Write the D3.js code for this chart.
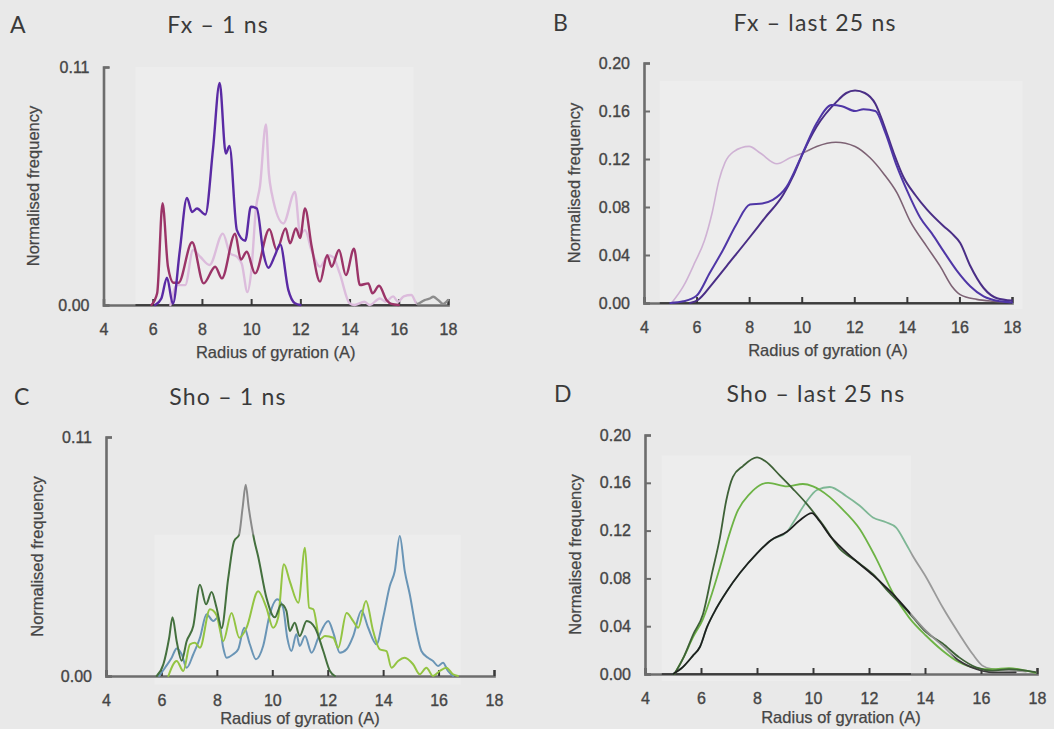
<!DOCTYPE html>
<html>
<head>
<meta charset="utf-8">
<script src="https://cdn.jsdelivr.net/npm/d3@7"></script>
<style>
  html, body { margin: 0; padding: 0; background: #e9e9e9; }
  svg { display: block; }
</style>
</head>
<body>
<svg id="chart" width="1054" height="729"></svg>
<script>
// ---- Shared axis values -------------------------------------------------
const radiusTicks = [4, 6, 8, 10, 12, 14, 16, 18];
const shortRunTicks = [0, 0.11];
const longRunTicks = [0, 0.04, 0.08, 0.12, 0.16, 0.20];

// ---- Fx, first nanosecond: [radius of gyration (A), normalised frequency]
const fxShortViolet = [[6.1,0],[6.35,0.003],[6.58,0.0126],[6.82,0.0005],[7.1,0.025],[7.39,0.0495],[7.6,0.043],[7.8,0.0446],[8.14,0.0418],[8.45,0.072],[8.72,0.1026],[8.97,0.070],[9.12,0.0735],[9.42,0.0346],[9.76,0.0297],[9.99,0.0454],[10.23,0.0446],[10.5,0.0238],[10.7,0.0172],[10.97,0.023],[11.18,0.028],[11.51,0.007],[11.78,0.0008],[12.0,0]];
const fxShortMagenta = [[5.95,0],[6.18,0.0054],[6.4,0.047],[6.62,0.0177],[6.85,0.0103],[7.05,0.0103],[7.6,0.029],[8.07,0.01],[8.54,0.0177],[8.81,0.0123],[9.35,0.033],[9.58,0.021],[9.82,0.0246],[10.16,0.0146],[10.74,0.035],[11.04,0.0254],[11.4,0.0354],[11.58,0.0285],[11.82,0.0354],[11.99,0.031],[12.19,0.0446],[12.46,0.027],[12.8,0.0108],[13.09,0.023],[13.27,0.0177],[13.57,0.0254],[13.85,0.0138],[14.18,0.026],[14.42,0.0092],[14.76,0.01],[14.93,0.0054],[15.2,0.0089],[15.5,0.0023],[15.7,0.0005],[16.0,0]];
const fxShortPink = [[6.72,0],[6.99,0.0092],[7.32,0.0092],[7.64,0.0254],[7.93,0.0223],[8.31,0.0185],[8.85,0.033],[9.15,0.0238],[9.42,0.0223],[9.62,0.019],[9.85,0.006],[10.0,0.015],[10.2,0.045],[10.36,0.055],[10.6,0.0834],[10.72,0.0608],[10.84,0.0515],[11.31,0.0377],[11.78,0.0523],[11.99,0.033],[12.19,0.0346],[12.46,0.025],[12.8,0.0177],[13.13,0.023],[13.34,0.022],[13.6,0.0146],[14.0,0.0008],[14.2,0],[14.6,0.0015],[14.82,0],[15.23,0.003],[15.47,0.0015],[15.77,0.004],[15.97,0.0015],[16.2,0.004],[16.51,0.0046],[16.75,0.0005],[17.05,0.0023],[17.26,0.003],[17.4,0.0038],[17.6,0.0023],[17.8,0.0005],[18.0,0.0023]];

// ---- Fx, last 25 ns
const fxLongLavender = [[5.05,0],[5.5,0.014],[5.94,0.034],[6.3,0.052],[6.59,0.075],[6.85,0.102],[7.08,0.117],[7.4,0.126],[8.0,0.1305],[8.42,0.125],[9.06,0.116],[9.56,0.121],[10.05,0.125],[10.57,0.1305],[11.3,0.134],[12.03,0.1305],[12.6,0.121],[13.11,0.108],[13.62,0.092],[14.13,0.068],[14.76,0.047],[15.27,0.0305],[15.71,0.014],[16.03,0.007],[16.66,0.003],[17.3,0.0014],[17.94,0.0005]];
const fxLongShoulder = [[5.0,0],[5.5,0.0014],[6.0,0.006],[6.5,0.025],[7.0,0.044],[7.5,0.065],[8.03,0.082],[8.5,0.083],[8.9,0.086],[9.43,0.097],[10.0,0.123],[10.57,0.15],[11.14,0.165],[11.53,0.164],[12.03,0.160],[12.35,0.1615],[12.8,0.16],[13.18,0.142],[13.62,0.114],[14.0,0.094],[14.51,0.071],[14.95,0.058],[15.4,0.043],[15.9,0.027],[16.41,0.014],[16.92,0.0055],[17.55,0.0014],[18.0,0.0005]];
const fxLongSteady = [[5.75,0],[6.05,0.0025],[6.6,0.016],[7.15,0.031],[8.03,0.055],[8.6,0.071],[9.29,0.09],[9.7,0.107],[10.05,0.125],[10.57,0.147],[11.34,0.168],[11.7,0.175],[12.03,0.177],[12.4,0.175],[12.8,0.166],[13.1,0.15],[13.5,0.125],[13.87,0.105],[14.32,0.09],[14.76,0.078],[15.4,0.064],[15.71,0.058],[16.03,0.05],[16.41,0.031],[16.92,0.0125],[17.43,0.004],[18.0,0.002]];

// ---- Sho, first nanosecond
const shoShortDark = [[5.83,0],[6.07,0.0054],[6.28,0.0176],[6.4,0.027],[6.55,0.016],[6.73,0.007],[6.91,0.016],[7.15,0.023],[7.39,0.042],[7.61,0.033],[7.81,0.0387],[7.99,0.0314],[8.17,0.022],[8.41,0.045],[8.62,0.062],[8.8,0.065],[8.93,0.0775],[9.04,0.088],[9.15,0.0775],[9.35,0.0625],[9.49,0.055],[9.79,0.036],[10.09,0.027],[10.33,0.033],[10.51,0.03],[10.63,0.0207],[10.81,0.0245],[10.99,0.0184],[11.24,0.0253],[11.54,0.0222],[11.84,0.0115],[12.08,0.0023],[12.26,0]];
const shoShortLime = [[6.25,0],[6.55,0.0069],[6.79,0.0023],[7.03,0.0146],[7.21,0.0153],[7.39,0.013],[7.75,0.0307],[7.99,0.028],[8.23,0.016],[8.53,0.029],[8.81,0.0176],[9.07,0.0222],[9.49,0.039],[9.79,0.0314],[10.03,0.0222],[10.21,0.0268],[10.42,0.0514],[10.63,0.0437],[10.94,0.0337],[11.18,0.059],[11.33,0.0314],[11.48,0.0307],[11.72,0.0169],[11.9,0.0184],[12.2,0.0176],[12.38,0.013],[12.68,0.029],[12.92,0.0253],[13.1,0.0222],[13.38,0.0345],[13.64,0.0207],[13.88,0.0123],[14.12,0.0115],[14.3,0.0038],[14.54,0.0069],[14.78,0.0084],[15.08,0.0054],[15.32,0.0008],[15.56,0.0038],[15.8,0],[16.04,0.0023],[16.28,0.0038],[16.52,0.0008],[16.7,0]];
const shoShortSteel = [[5.92,0],[6.13,0.0038],[6.37,0.0084],[6.55,0.0127],[6.73,0.01],[6.91,0.0038],[7.15,0.01],[7.39,0.0176],[7.63,0.0284],[7.87,0.0253],[8.05,0.027],[8.23,0.013],[8.35,0.0084],[8.59,0.01],[8.77,0.0123],[8.99,0.0222],[9.19,0.0146],[9.41,0.0077],[9.67,0.0138],[9.91,0.0284],[10.18,0.0353],[10.39,0.0314],[10.54,0.0176],[10.69,0.0115],[10.87,0.0192],[10.99,0.0138],[11.18,0.0184],[11.42,0.0107],[11.66,0.0176],[12.02,0.0253],[12.2,0.02],[12.44,0.0107],[12.68,0.0123],[12.92,0.0184],[13.22,0.0302],[13.46,0.0222],[13.76,0.0146],[14.0,0.0268],[14.24,0.0414],[14.42,0.0483],[14.6,0.0644],[14.78,0.0483],[14.96,0.0376],[15.2,0.0207],[15.38,0.0115],[15.62,0.0084],[15.8,0.0069],[15.98,0.0046],[16.16,0.0061],[16.34,0.0023],[16.52,0]];

// ---- Sho, last 25 ns
const shoLongDark = [[5.05,0],[5.4,0.015],[5.72,0.033],[6.07,0.05],[6.4,0.085],[6.68,0.1146],[6.9,0.145],[7.14,0.165],[7.5,0.174],[8.0,0.1812],[8.3,0.178],[8.82,0.166],[9.28,0.155],[9.79,0.142],[10.35,0.125],[10.95,0.105],[11.54,0.0945],[12.14,0.0835],[12.73,0.068],[13.44,0.051],[14.04,0.035],[14.63,0.0255],[15.22,0.0139],[15.82,0.0056],[16.41,0.0028],[17.0,0.004],[17.36,0.0035],[17.95,0.0015]];
const shoLongLight = [[5.05,0],[5.4,0.015],[5.72,0.031],[6.07,0.046],[6.4,0.068],[6.68,0.0895],[7.0,0.116],[7.28,0.135],[7.75,0.151],[8.1,0.158],[8.4,0.16],[9.07,0.157],[9.64,0.159],[10.0,0.157],[10.25,0.154],[10.6,0.148],[10.96,0.14],[11.68,0.121],[12.25,0.097],[12.85,0.068],[13.44,0.047],[14.04,0.032],[14.63,0.0195],[15.22,0.0098],[15.82,0.005],[16.41,0.004],[17.0,0.005],[17.6,0.0028],[17.95,0.001]];
const shoLongTeal = [[5.0,0],[5.36,0.006],[5.7,0.015],[5.96,0.0226],[6.21,0.039],[6.55,0.055],[6.93,0.0695],[7.39,0.0845],[8.0,0.101],[8.5,0.112],[9.07,0.119],[9.3,0.127],[9.76,0.144],[10.14,0.154],[10.6,0.1565],[11.18,0.149],[11.66,0.141],[12.14,0.131],[12.61,0.127],[12.97,0.1225],[13.32,0.109],[13.56,0.099],[14.04,0.081],[14.63,0.0558],[15.22,0.0335],[15.7,0.0167],[16.05,0.007],[16.41,0.004],[17.0,0.003],[17.6,0.002]];
const shoLongBlack = [[5.0,0],[5.36,0.006],[5.7,0.015],[5.96,0.0226],[6.21,0.039],[6.55,0.055],[6.93,0.0695],[7.39,0.0845],[8.0,0.101],[8.5,0.112],[9.07,0.119],[9.5,0.128],[9.96,0.1347],[10.23,0.128],[10.59,0.116],[11.0,0.106],[11.54,0.0945],[12.14,0.0828],[12.85,0.067],[13.44,0.0516],[14.04,0.036],[14.63,0.0237],[15.22,0.011],[15.82,0.0042],[16.41,0.0014],[17.24,0.0014]];

// ---- Panel layout and styling ------------------------------------------
const panels = [
  { letter: 'A', title: 'Fx \u2013 1 ns', left: 103.5, right: 448, top: 67, bottom: 305,
    yMax: 0.11, yTicks: shortRunTicks, letterX: 10, titleX: 218, titleY: 33,
    yTitleX: 33, xTitleY: 358, innerBase: [5.3, 16.75],
    haze: [5.3, 16.6, 0, 0.11],
    lines: [
      { data: fxShortPink, width: 2.4, stops: [[0, '#dcbcdc'], [16.7, '#dcbcdc'], [16.75, '#8c8c8c'], [18, '#8c8c8c']] },
      { data: fxShortMagenta, color: '#9b3468', width: 2.4 },
      { data: fxShortViolet, color: '#5a2aa4', width: 2.4 }
    ] },
  { letter: 'B', title: 'Fx \u2013 last 25 ns', left: 644, right: 1012, top: 63, bottom: 303,
    yMax: 0.20, yTicks: longRunTicks, letterX: 553, titleX: 815, titleY: 31,
    yTitleX: 574, xTitleY: 356, innerBase: [4.6, 18],
    haze: [4.6, 18.4, -0.005, 0.185],
    lines: [
      { data: fxLongLavender, width: 1.6, stops: [[0, '#cfb2d4'], [9.7, '#cfb2d4'], [10.4, '#7d6274'], [18, '#7d6274']] },
      { data: fxLongSteady, color: '#4a2e86', width: 2.0 },
      { data: fxLongShoulder, color: '#4f36a6', width: 2.0 }
    ] },
  { letter: 'C', title: 'Sho \u2013 1 ns', left: 106, right: 494, top: 437, bottom: 676,
    yMax: 0.11, yTicks: shortRunTicks, letterX: 14, titleX: 228, titleY: 405,
    yTitleX: 37, xTitleY: 724, innerBase: null,
    haze: [5.75, 16.8, -0.004, 0.065],
    lines: [
      { data: shoShortSteel, color: '#6a95b6', width: 2.0 },
      { data: shoShortLime, color: '#93c442', width: 2.0 },
      { data: shoShortDark, width: 2.0, vstops: [[0, '#44703e'], [0.0645, '#44703e'], [0.0655, '#8a8a8a'], [0.11, '#8a8a8a']] }
    ] },
  { letter: 'D', title: 'Sho \u2013 last 25 ns', left: 645, right: 1037, top: 435, bottom: 674,
    yMax: 0.20, yTicks: longRunTicks, letterX: 554, titleX: 816, titleY: 402,
    yTitleX: 575, xTitleY: 723, innerBase: [4.6, 13.5],
    haze: [4.6, 13.5, -0.006, 0.183],
    lines: [
      { data: shoLongTeal, width: 1.8, stops: [[0, '#7eb795'], [13.45, '#7eb795'], [13.5, '#9a9a9a'], [18, '#9a9a9a']] },
      { data: shoLongLight, color: '#6db345', width: 1.8 },
      { data: shoLongDark, color: '#3e6137', width: 1.8 },
      { data: shoLongBlack, width: 1.8, stops: [[0, '#1f1f1f'], [13.45, '#1f1f1f'], [13.5, '#8f8f8f'], [14.9, '#8f8f8f'], [15.1, '#3a3a3a'], [18, '#3a3a3a']] }
    ] }
];

const svg = d3.select('#chart');
const defs = svg.append('defs');
const axisGrey = '#6d6d6d';
const labelColor = '#454545';
const tickFont = '"Liberation Sans", Arial, sans-serif';
const titleFont = 'Lato, "Open Sans", sans-serif';

panels.forEach((p, pi) => {
  const x = d3.scaleLinear().domain([4, 18]).range([p.left, p.right]);
  const y = d3.scaleLinear().domain([0, p.yMax]).range([p.bottom, p.top]);
  const g = svg.append('g');

  // faint lighter plotting area
  g.append('rect')
    .attr('x', x(p.haze[0])).attr('y', y(p.haze[3]))
    .attr('width', x(p.haze[1]) - x(p.haze[0]))
    .attr('height', y(p.haze[2]) - y(p.haze[3]))
    .attr('fill', '#ededed');

  // panel letter and title
  g.append('text').text(p.letter)
    .attr('x', p.letterX).attr('y', p.titleY)
    .attr('font-family', titleFont).attr('font-size', 23)
    .attr('fill', '#3a3a3a');
  g.append('text').text(p.title)
    .attr('x', p.titleX).attr('y', p.titleY)
    .attr('text-anchor', 'middle')
    .attr('font-family', titleFont).attr('font-size', 23)
    .attr('letter-spacing', 1.2)
    .attr('fill', '#3a3a3a');

  // axes with inward ticks
  const xAxis = d3.axisBottom(x).tickValues(radiusTicks)
    .tickSizeInner(-6).tickSizeOuter(-6).tickPadding(19).tickFormat(d3.format('d'));
  const yAxis = d3.axisLeft(y).tickValues(p.yTicks)
    .tickSizeInner(-6).tickSizeOuter(-6).tickPadding(14).tickFormat(d3.format('.2f'));

  const gx = g.append('g').attr('transform', `translate(0,${p.bottom})`).call(xAxis);
  const gy = g.append('g').attr('transform', `translate(${p.left},0)`).call(yAxis);
  [gx, gy].forEach(a => {
    a.select('.domain').attr('stroke', axisGrey).attr('stroke-width', 2.6);
    a.selectAll('.tick line').attr('stroke', axisGrey).attr('stroke-width', 2);
    a.selectAll('.tick text')
      .attr('fill', labelColor)
      .attr('stroke', labelColor).attr('stroke-width', 0.35)
      .attr('font-family', tickFont)
      .attr('font-size', 16);
  });
  gx.selectAll('.tick line').attr('stroke', '#3a3a3a');

  if (p.innerBase) {
    g.append('line')
      .attr('x1', x(p.innerBase[0])).attr('x2', x(p.innerBase[1]))
      .attr('y1', p.bottom).attr('y2', p.bottom)
      .attr('stroke', '#2e2e2e').attr('stroke-width', 1.6);
  }

  // axis titles
  g.append('text').text('Radius of gyration (A)')
    .attr('x', (p.left + p.right) / 2).attr('y', p.xTitleY)
    .attr('text-anchor', 'middle')
    .attr('font-family', tickFont).attr('font-size', 16.5)
    .attr('fill', labelColor).attr('stroke', labelColor).attr('stroke-width', 0.25);
  g.append('text').text('Normalised frequency')
    .attr('transform', `translate(${p.yTitleX},${(p.top + p.bottom) / 2}) rotate(-90)`)
    .attr('text-anchor', 'middle').attr('dy', '0.35em')
    .attr('font-family', tickFont).attr('font-size', 16.5)
    .attr('fill', labelColor).attr('stroke', labelColor).attr('stroke-width', 0.25);

  // distribution curves
  const line = d3.line()
    .x(d => x(d[0])).y(d => y(d[1]))
    .curve(d3.curveMonotoneX);

  p.lines.forEach((s, si) => {
    let stroke = s.color;
    if (s.stops || s.vstops) {
      const id = `grad-${pi}-${si}`;
      const grad = defs.append('linearGradient').attr('id', id)
        .attr('gradientUnits', 'userSpaceOnUse');
      if (s.stops) {
        grad.attr('x1', x(4)).attr('x2', x(18)).attr('y1', 0).attr('y2', 0);
        s.stops.forEach(([v, c]) => grad.append('stop')
          .attr('offset', Math.max(0, Math.min(1, (v - 4) / 14))).attr('stop-color', c));
      } else {
        grad.attr('x1', 0).attr('x2', 0).attr('y1', y(0)).attr('y2', y(p.yMax));
        s.vstops.forEach(([v, c]) => grad.append('stop')
          .attr('offset', v / p.yMax).attr('stop-color', c));
      }
      stroke = `url(#${id})`;
    }
    g.append('path')
      .datum(s.data)
      .attr('d', line)
      .attr('fill', 'none')
      .attr('stroke', stroke)
      .attr('stroke-width', s.width)
      .attr('stroke-linejoin', 'round')
      .attr('stroke-linecap', 'round');
  });
});
</script>
</body>
</html>
